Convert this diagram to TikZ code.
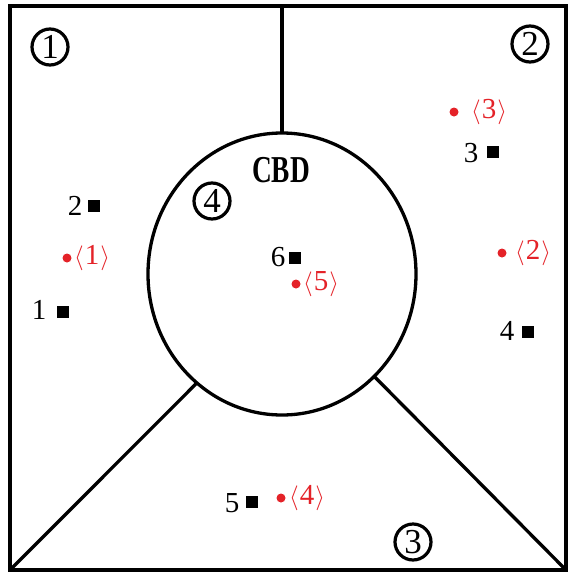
\documentclass[tikz,border=0pt]{standalone}
\usepackage{fontspec}
\setmainfont{Liberation Serif}
\usetikzlibrary{shapes.geometric}
\definecolor{ptred}{RGB}{228,34,40}
\tikzset{
  zone/.style={circle, draw, line width=3.2pt, minimum size=36pt, inner sep=0pt,
               font=\fontsize{35}{35}\selectfont},
  numlbl/.style={inner sep=0pt, font=\fontsize{29}{29}\selectfont},
  sq/.style={rectangle, fill=black, minimum size=12.5pt, inner sep=0pt},
  reddot/.style={circle, fill=ptred, minimum size=9pt, inner sep=0pt},
  redlbl/.style={inner sep=0pt, anchor=west, text=ptred, font=\fontsize{29}{29}\selectfont},
  edge/.style={line width=3.3pt}
}
\newcommand{\ang}[1]{\(\langle\)\kern1pt#1\kern1pt\(\rangle\)}
\begin{document}
\begin{tikzpicture}[x=1pt,y=-1pt]
\useasboundingbox (0,0) rectangle (572,573);

% outer frame and its corners
\coordinate (tl) at (10,6);
\coordinate (tr) at (566,6);
\coordinate (bl) at (10,570);
\coordinate (br) at (566,570);
\coordinate (topmid) at (282,6);
\draw[edge, line join=miter] (tl) -- (tr) -- (br) -- (bl) -- cycle;

% central business district
\node[ellipse, draw, line width=3.3pt, outer sep=0pt, inner sep=0pt,
      minimum width=268pt, minimum height=282pt] (cbd) at (282,274) {};

% zone boundaries
\draw[edge] (topmid) -- (cbd.north);
\draw[edge] (cbd.232.4) -- (bl);
\draw[edge] (cbd.312.2) -- (br);

% zone numbers
\node[zone] (z1) at (50,47) {1};
\node[zone] (z2) at (530,44) {2};
\node[zone] (z3) at (413,542) {3};
\node[zone] (z4) at (212,201) {4};

\node[inner sep=0pt, font=\bfseries\fontsize{38}{38}\selectfont] (cbdlbl) at (281,170) {\scalebox{0.72}[1]{CBD}};

% facilities (black squares)
\node[sq] (s1) at (63,312) {};
\node[numlbl] (n1) at (39,310) {1};
\node[sq] (s2) at (94,206) {};
\node[numlbl] (n2) at (75,206) {2};
\node[sq] (s3) at (493,152) {};
\node[numlbl] (n3) at (471,153) {3};
\node[sq] (s4) at (528,332) {};
\node[numlbl] (n4) at (507,331) {4};
\node[sq] (s5) at (252,502) {};
\node[numlbl] (n5) at (232,503) {5};
\node[sq] (s6) at (295,258) {};
\node[numlbl] (n6) at (278,257) {6};

% candidate sites (red dots)
\node[reddot] (d1) at (67,258) {};
\node[redlbl] (r1) at (74,258) {\ang{1}};
\node[reddot] (d2) at (502,253) {};
\node[redlbl] (r2) at (515,253) {\ang{2}};
\node[reddot] (d3) at (454,112) {};
\node[redlbl] (r3) at (471,112) {\ang{3}};
\node[reddot] (d4) at (281,498) {};
\node[redlbl] (r4) at (289,498) {\ang{4}};
\node[reddot] (d5) at (296,284) {};
\node[redlbl] (r5) at (303,284) {\ang{5}};
\end{tikzpicture}
\end{document}
